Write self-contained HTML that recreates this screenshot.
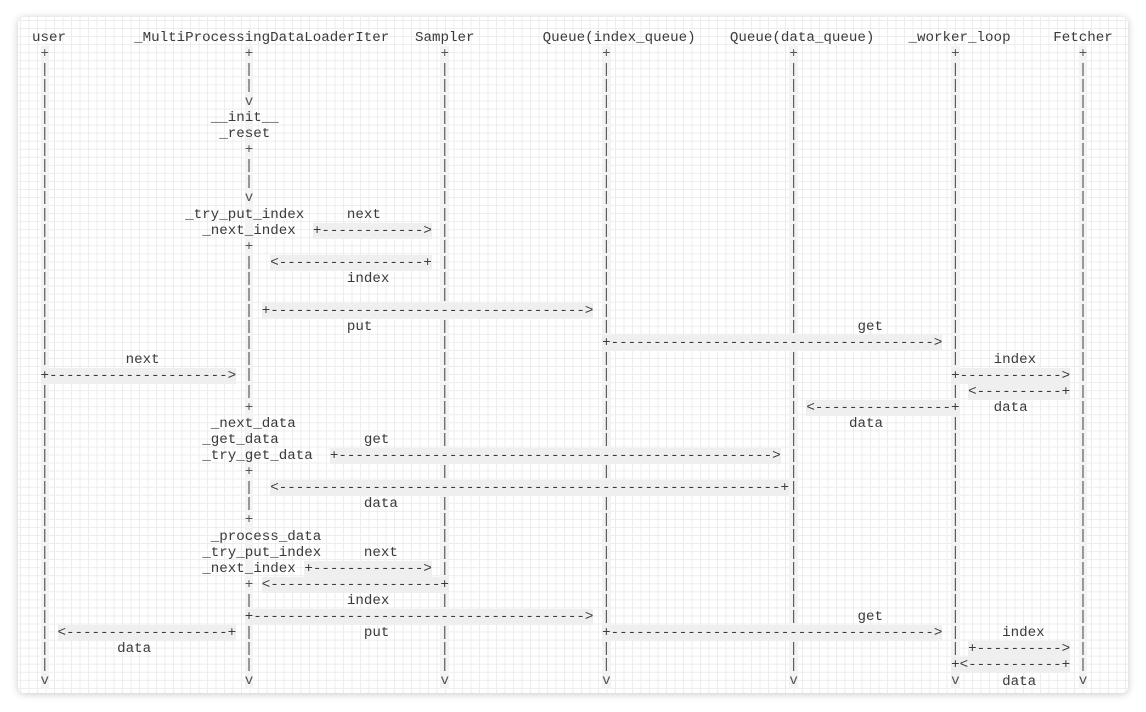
<!DOCTYPE html>
<html><head><meta charset="utf-8">
<style>
html,body{margin:0;padding:0;width:1146px;height:712px;background:#fff;overflow:hidden}
.card{position:absolute;left:18px;top:17px;width:1110px;height:676px;border-radius:6px;
box-shadow:0 1px 8px rgba(0,0,0,0.22);
background-color:#fff;
background-image:linear-gradient(to right,#ececec 1px,transparent 1px),linear-gradient(to bottom,#ececec 1px,transparent 1px);
background-size:8.5px 8.05px;background-position:2px 3px}
.t{position:absolute;margin:0;font-family:"Liberation Mono",monospace;font-size:14.18px;line-height:16.1px;color:#3a3a3a;white-space:pre;
left:calc(32px + var(--c)*8.51px);top:calc(29.5px + var(--r)*16.1px)}
.l{background:#f3f3f3;color:#555}
.a{background:#efefef}
</style></head><body>
<div class="card"></div>
<pre class="t" style="--c:0;--r:0">user</pre>
<pre class="t" style="--c:12;--r:0">_MultiProcessingDataLoaderIter</pre>
<pre class="t" style="--c:45;--r:0">Sampler</pre>
<pre class="t" style="--c:60;--r:0">Queue(index_queue)</pre>
<pre class="t" style="--c:82;--r:0">Queue(data_queue)</pre>
<pre class="t" style="--c:103;--r:0">_worker_loop</pre>
<pre class="t" style="--c:120;--r:0">Fetcher</pre>

<pre class="t l" style="--c:1;--r:1">+
|
|
|
|
|
|
|
|
|
|
|
|
|
|
|
|
|
|
|
|
|
|
|
|
|
|
|
|
|
|
|
|
|
|
|
|
|
|
v</pre>
<pre class="t l" style="--c:25;--r:1">+
|
|
v
 
 
+
|
|
v
 
 
+
|
|
|
|
|
|
|
|
|
+
 
 
 
+
|
|
+
 
 
 
+
|
+
|
|
|
v</pre>
<pre class="t l" style="--c:48;--r:1">+
|
|
|
|
|
|
|
|
|
|
|
|
|
|
|
|
|
|
|
|
|
|
|
|
|
|
|
|
|
|
|
|
|
|
|
|
|
|
v</pre>
<pre class="t l" style="--c:67;--r:1">+
|
|
|
|
|
|
|
|
|
|
|
|
|
|
|
|
|
|
|
|
|
|
|
|
|
|
|
|
|
|
|
|
|
|
|
|
|
|
v</pre>
<pre class="t l" style="--c:89;--r:1">+
|
|
|
|
|
|
|
|
|
|
|
|
|
|
|
|
|
|
|
|
|
|
|
|
|
|
|
|
|
|
|
|
|
|
|
|
|
|
v</pre>
<pre class="t l" style="--c:108;--r:1">+
|
|
|
|
|
|
|
|
|
|
|
|
|
|
|
|
|
|
|
|
|
|
|
|
|
|
|
|
|
|
|
|
|
|
|
|
|
|
v</pre>
<pre class="t l" style="--c:123;--r:1">+
|
|
|
|
|
|
|
|
|
|
|
|
|
|
|
|
|
|
|
|
|
|
|
|
|
|
|
|
|
|
|
|
|
|
|
|
|
|
v</pre>

<pre class="t" style="--c:21;--r:5">__init__</pre>
<pre class="t" style="--c:22;--r:6">_reset</pre>
<pre class="t" style="--c:18;--r:11">_try_put_index</pre>
<pre class="t" style="--c:37;--r:11">next</pre>
<pre class="t" style="--c:20;--r:12">_next_index</pre>
<pre class="t" style="--c:37;--r:15">index</pre>
<pre class="t" style="--c:37;--r:18">put</pre>
<pre class="t" style="--c:97;--r:18">get</pre>
<pre class="t" style="--c:11;--r:20">next</pre>
<pre class="t" style="--c:113;--r:20">index</pre>
<pre class="t" style="--c:113;--r:23">data</pre>
<pre class="t" style="--c:21;--r:24">_next_data</pre>
<pre class="t" style="--c:96;--r:24">data</pre>
<pre class="t" style="--c:20;--r:25">_get_data</pre>
<pre class="t" style="--c:39;--r:25">get</pre>
<pre class="t" style="--c:20;--r:26">_try_get_data</pre>
<pre class="t" style="--c:39;--r:29">data</pre>
<pre class="t" style="--c:21;--r:31">_process_data</pre>
<pre class="t" style="--c:20;--r:32">_try_put_index</pre>
<pre class="t" style="--c:39;--r:32">next</pre>
<pre class="t" style="--c:20;--r:33">_next_index</pre>
<pre class="t" style="--c:37;--r:35">index</pre>
<pre class="t" style="--c:97;--r:36">get</pre>
<pre class="t" style="--c:39;--r:37">put</pre>
<pre class="t" style="--c:114;--r:37">index</pre>
<pre class="t" style="--c:10;--r:38">data</pre>
<pre class="t" style="--c:114;--r:40">data</pre>

<pre class="t a" style="--c:33;--r:12">+------------&gt;</pre>
<pre class="t a" style="--c:28;--r:14">&lt;-----------------+</pre>
<pre class="t a" style="--c:27;--r:17">+-------------------------------------&gt;</pre>
<pre class="t a" style="--c:67;--r:19">+--------------------------------------&gt;</pre>
<pre class="t a" style="--c:1;--r:21">+---------------------&gt;</pre>
<pre class="t a" style="--c:108;--r:21">+------------&gt;</pre>
<pre class="t a" style="--c:110;--r:22">&lt;----------+</pre>
<pre class="t a" style="--c:91;--r:23">&lt;----------------+</pre>
<pre class="t a" style="--c:35;--r:26">+---------------------------------------------------&gt;</pre>
<pre class="t a" style="--c:28;--r:28">&lt;-----------------------------------------------------------+</pre>
<pre class="t a" style="--c:32;--r:33">+-------------&gt;</pre>
<pre class="t a" style="--c:27;--r:34">&lt;--------------------+</pre>
<pre class="t a" style="--c:25;--r:36">+---------------------------------------&gt;</pre>
<pre class="t a" style="--c:3;--r:37">&lt;-------------------+</pre>
<pre class="t a" style="--c:67;--r:37">+--------------------------------------&gt;</pre>
<pre class="t a" style="--c:110;--r:38">+----------&gt;</pre>
<pre class="t a" style="--c:108;--r:39">+&lt;-----------+</pre>
</body></html>
